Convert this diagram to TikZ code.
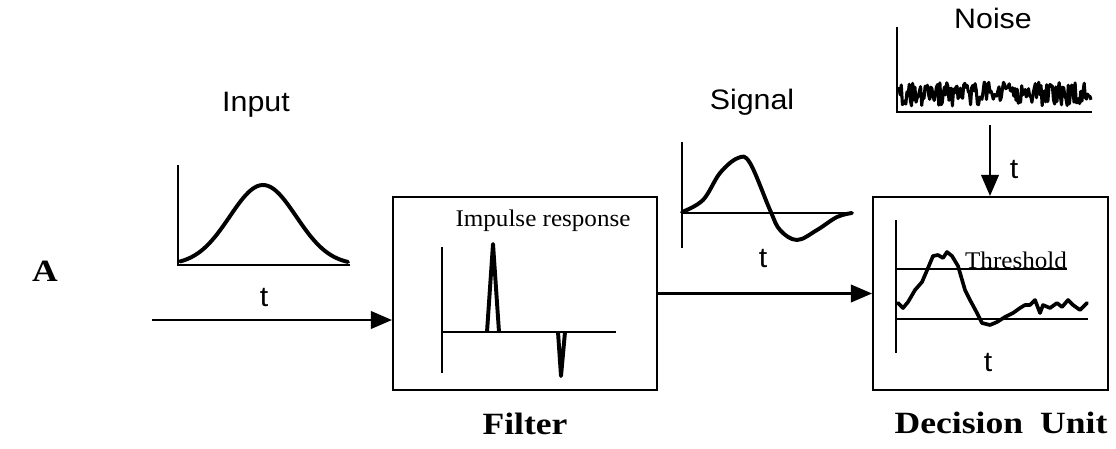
\documentclass[tikz,border=0pt]{standalone}
\usepackage{fontspec}
\setmainfont{Liberation Serif}
\newfontfamily\plotfont[FakeStretch=1.08]{Liberation Sans}
\newfontfamily\notefont[FakeStretch=1.05]{Liberation Serif}
\newfontfamily\namefont[FakeStretch=1.15]{Liberation Serif}
\usepackage{tikz}
\usetikzlibrary{calc,arrows.meta,positioning}

\tikzset{
  axis/.style={line width=1.4pt},
  trace/.style={line width=2.8pt, line join=round, line cap=round},
  unitbox/.style={draw, line width=1.4pt, inner sep=0pt},
  feed/.style={line width=1.5pt, -{Triangle[length=15pt,width=12.5pt]}},
  plotlabel/.style={font=\plotfont\fontsize{20}{22}\selectfont, inner sep=0pt, anchor=base},
  notelabel/.style={font=\notefont\fontsize{17}{19}\selectfont, inner sep=0pt, anchor=base},
  namelabel/.style={font=\namefont\bfseries\fontsize{22}{24}\selectfont, inner sep=0pt, anchor=base},
}

\begin{document}
\begin{tikzpicture}[x=0.025cm, y=-0.025cm]
    \useasboundingbox (0,0) rectangle (1116,448);

    % Boxes
    \node[unitbox, minimum width=6.6cm, minimum height=4.825cm] (filter) at (525,293.5) {};
    \node[unitbox, minimum width=5.875cm, minimum height=4.825cm] (decision) at (990.5,293.5) {};

    \node[namelabel] (alabel) at (45,281) {A};
    \node[namelabel] (filtername) at (525,434) {Filter};
    \node[namelabel] (decisionname) at (1001,433) {Decision\hspace{0.55em}Unit};

    % Input pulse
    \node[plotlabel] (inputlabel) at (256,111) {Input};
    \draw[axis] (178,165) -- (178,265) -- (350,265);
    \draw[trace] plot[domain=180:348, samples=60] (\x, {265 - 80*exp(-((\x-263)/47)*((\x-263)/47))});
    \node[plotlabel] (inputt) at (264,306) {t};

    \coordinate (src) at (152,320);
    \draw[feed] (src) -- (src -| filter.west);

    % Impulse response
    \node[notelabel] (impulselabel) at (543,226) {Impulse response};
    \draw[axis] (442,247) -- (442,373);
    \draw[axis] (442,332) -- (616,332);
    \draw[trace, line cap=butt] (487,332) -- (493,244) -- (499,332);
    \draw[trace, line cap=butt] (558,332) -- (561,376) -- (565,332);

    \draw[feed] (filter.east) -- (decision.west);

    % Signal
    \node[plotlabel] (signallabel) at (752,109) {Signal};
    \draw[axis] (682,142) -- (682,248);
    \draw[axis] (682,213) -- (853,213);
    \draw[trace] plot[smooth, tension=0.6] coordinates {(682,212) (703,200) (720,173) (738,158) (750,163) (770,210) (780,230) (797,240) (817,230) (837,217) (852,213)};
    \node[plotlabel] (signalt) at (763,267) {t};

    % Noise
    \node[plotlabel] (noiselabel) at (993,28) {Noise};
    \draw[axis] (897,27) -- (897,112) -- (1092,112);
    \pgfmathsetseed{42}
    \draw[line width=2.2pt, line join=round] plot[domain=899:1091, samples=170] (\x, {94 + 12*rand});
    \node[plotlabel] (noiset) at (1014,178) {t};

    \coordinate (noisetail) at (990,125);
    \draw[feed] (noisetail) -- (noisetail |- decision.north);

    % Decision
    \draw[axis] (896,220) -- (896,353);
    \draw[axis] (896,269) -- (1067,269);
    \draw[axis] (896,319) -- (1088,319);
    \node[notelabel] (thresholdlabel) at (1016,268) {Threshold};
    \draw[trace, line width=2.6pt] (898,303) -- (903,308) -- (908,302) -- (915,290) -- (922,282) -- (928,268) -- (933,256) -- (938,255) -- (943,258) -- (947,252) -- (952,256) -- (958,266) -- (965,290) -- (970,300) -- (977,313) -- (982,323) -- (990,325) -- (997,322) -- (1005,317) -- (1013,313) -- (1020,308) -- (1025,305) -- (1030,305) -- (1035,300) -- (1040,313) -- (1043,305) -- (1050,308) -- (1057,303) -- (1062,307) -- (1068,300) -- (1073,305) -- (1080,310) -- (1087,303);
    \node[plotlabel] (decisiont) at (988,371) {t};
\end{tikzpicture}
\end{document}
